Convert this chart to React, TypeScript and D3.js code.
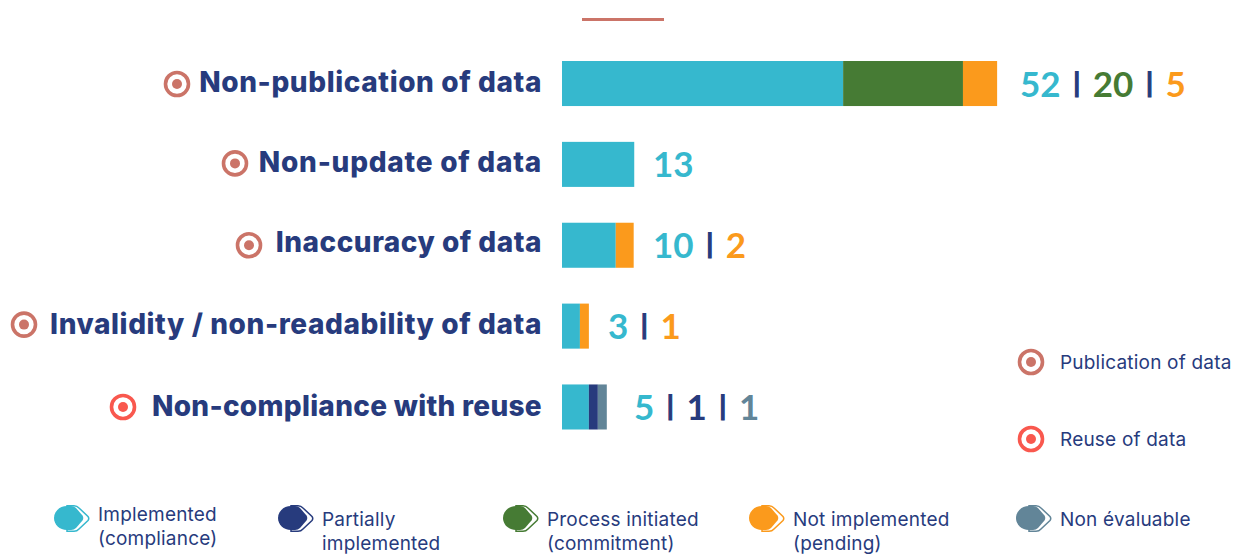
import React from "react";
import * as d3 from "d3";

const categories = [
  "Non-publication of data",
  "Non-update of data",
  "Inaccuracy of data",
  "Invalidity / non-readability of data",
  "Non-compliance with reuse",
];

const statuses = ["implemented", "partial", "process", "pending", "nonEval"];

// counts printed beside each bar
const implemented = [52, 13, 10, 3, 5];
const partial = [0, 0, 0, 0, 1];
const process = [20, 0, 0, 0, 0];
const pending = [5, 0, 2, 1, 0];
const nonEval = [0, 0, 0, 0, 1];

// the source bars are not proportional to their counts, so these are the lengths as read off the picture
const implementedLen = [50.2, 12.9, 9.6, 3.2, 4.8];
const partialLen = [0, 0, 0, 0, 1.6];
const processLen = [21.4, 0, 0, 0, 0];
const pendingLen = [6.1, 0, 3.2, 1.6, 0];
const nonEvalLen = [0, 0, 0, 0, 1.6];

const counts = { implemented, partial, process, pending, nonEval };
const lengths = {
  implemented: implementedLen,
  partial: partialLen,
  process: processLen,
  pending: pendingLen,
  nonEval: nonEvalLen,
};

const legendLabels = [
  ["Implemented", "(compliance)"],
  ["Partially", "implemented"],
  ["Process initiated", "(commitment)"],
  ["Not implemented", "(pending)"],
  ["Non évaluable"],
];

const typeLabels = ["Publication of data", "Reuse of data"];
const rowTypes = [0, 0, 0, 0, 1];

const colors = {
  implemented: "#36b8ce",
  partial: "#273b7d",
  process: "#467b34",
  pending: "#fb9a1c",
  nonEval: "#628598",
};
const navy = "#273b7d";
const typeColors = ["#cb7468", "#f9584e"];

// layout
const x0 = 562;
const pxPerUnit = 5.6;
const labelRight = 542;
const labelDy = [8.5, 8, 6.5, 7.5, 9];
const labelSpacing = [0.6, 0.75, 0.5, 0.6, 0.3];
const rosetteX = [177, 235, 249, 24, 123];
const rosetteDy = [0.5, -1, 0, -1.5, 0];
const valueX = [1020, 653, 653, 608, 634];
const legendX = [54, 278, 503, 749, 1016];
const legendTextY = [521, 526, 526, 526, 526];

function Rosette({ cx, cy, color }: { cx: number; cy: number; color: string }) {
  return (
    <g>
      <circle cx={cx} cy={cy} r={11.5} fill="none" stroke={color} strokeWidth={3.6} />
      <circle cx={cx} cy={cy} r={5} fill={color} />
    </g>
  );
}

function LegendMark({ x, y, color }: { x: number; y: number; color: string }) {
  return (
    <g transform={`translate(${x},${y})`}>
      <path
        d="M13,0.7 H20 Q23,0.7 25,3 L34,11.5 Q35.5,13.5 34,15.5 L25,24 Q23,26.3 20,26.3 H13 Z"
        fill="#fff"
        stroke={color}
        strokeWidth={1.5}
      />
      <path
        d="M13,1 C5.5,1 0,6.5 0,13 C0,19.5 5.5,25 13,25 H17 Q20,25 22,23 L28.5,15.5 Q30,13 28.5,10.5 L22,3 Q20,1 17,1 Z"
        fill={color}
      />
    </g>
  );
}

export default function App() {
  const x = d3.scaleLinear().domain([0, 100]).range([x0, x0 + 100 * pxPerUnit]);
  const y = d3.scaleBand<string>().domain(categories).range([61, 429.5]).paddingInner(0.443);

  const rows = categories.map((_, i) => {
    const obj: any = {};
    statuses.forEach((s) => (obj[s] = (lengths as any)[s][i]));
    return obj;
  });
  const series = d3.stack().keys(statuses)(rows);

  return (
    <svg
      width={1241}
      height={554}
      style={{ position: "absolute", left: 0, top: 0, display: "block", background: "#fff" }}
      fontFamily="Inter, sans-serif"
    >
      <line x1={582} x2={664} y1={19.5} y2={19.5} stroke={typeColors[0]} strokeWidth={3} />

      {series.map((s) => (
        <g key={s.key} fill={(colors as any)[s.key]}>
          {s.map((d, i) =>
            d[1] > d[0] ? (
              <rect
                key={i}
                x={x(d[0])}
                y={y(categories[i])}
                width={x(d[1]) - x(d[0])}
                height={y.bandwidth()}
              />
            ) : null
          )}
        </g>
      ))}

      {categories.map((c, i) => {
        const mid = (y(c) as number) + y.bandwidth() / 2;
        const parts = statuses
          .map((s) => ({ s, v: (counts as any)[s][i] as number }))
          .filter((p) => p.v > 0);
        return (
          <g key={c}>
            <Rosette cx={rosetteX[i]} cy={mid + rosetteDy[i]} color={typeColors[rowTypes[i]]} />
            <text
              x={labelRight}
              y={mid + labelDy[i]}
              textAnchor="end"
              fontSize={28}
              fontWeight={800}
              letterSpacing={labelSpacing[i]}
              fill={navy}
            >
              {c}
            </text>
            <text
              x={valueX[i]}
              y={mid + 13}
              fontFamily="Lato, sans-serif"
              fontSize={35}
              fontWeight={700}
              wordSpacing={6}
              xmlSpace="preserve"
            >
              {parts.map((p, k) => (
                <React.Fragment key={p.s}>
                  {k > 0 ? (
                    <tspan fill={navy} stroke={navy} strokeWidth={1.2} fontSize={27} dy={-4}>
                      {" | "}
                    </tspan>
                  ) : null}
                  <tspan fill={(colors as any)[p.s]} stroke="none" dy={k > 0 ? 4 : 0}>
                    {p.v}
                  </tspan>
                </React.Fragment>
              ))}
            </text>
          </g>
        );
      })}

      {typeLabels.map((t, i) => (
        <g key={t}>
          <Rosette cx={1031} cy={362 + i * 77} color={typeColors[i]} />
          <text x={1060} y={369 + i * 77} fontSize={19} letterSpacing={0.2} fill={navy}>
            {t}
          </text>
        </g>
      ))}

      {statuses.map((s, i) => (
        <g key={s}>
          <LegendMark x={legendX[i]} y={505} color={(colors as any)[s]} />
          <text fontSize={19} letterSpacing={0.2} fill={navy}>
            {legendLabels[i].map((line, k) => (
              <tspan key={k} x={legendX[i] + 44} y={legendTextY[i] + k * 24}>
                {line}
              </tspan>
            ))}
          </text>
        </g>
      ))}
    </svg>
  );
}
